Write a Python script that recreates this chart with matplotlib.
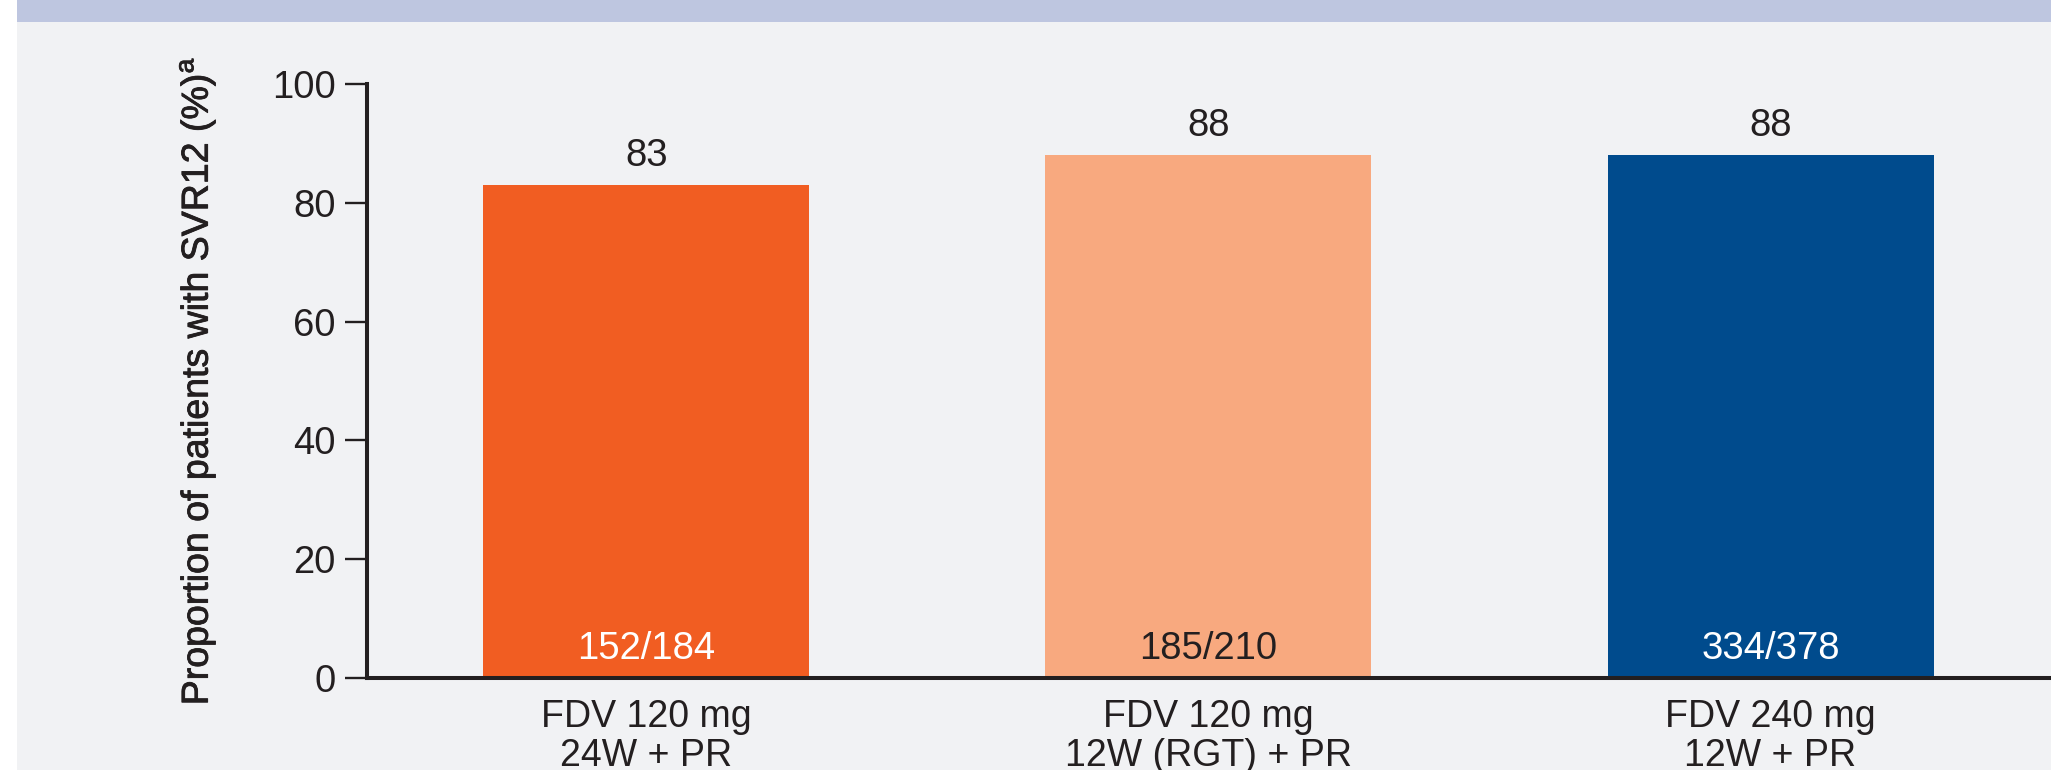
import matplotlib
matplotlib.use("Agg")
import matplotlib.pyplot as plt
from matplotlib import patheffects as pe
from matplotlib.patches import Rectangle

# Data
categories = ["FDV 120 mg\n24W + PR", "FDV 120 mg\n12W (RGT) + PR", "FDV 240 mg\n12W + PR"]
svr12_pct = [83, 88, 88]
responders = ["152/184", "185/210", "334/378"]
y_ticks = [0, 20, 40, 60, 80, 100]

bar_colors = ["#f15d22", "#f8a97f", "#004b8d"]
count_colors = ["white", "#231f20", "white"]
ink = "#231f20"
panel_bg = "#f1f2f4"

plt.rcParams["font.family"] = ["Liberation Sans", "DejaVu Sans"]
plt.rcParams["mathtext.fontset"] = "custom"
plt.rcParams["mathtext.rm"] = "Liberation Sans"

W, H, DPI = 2051, 770, 100
fig = plt.figure(figsize=(W / DPI, H / DPI), dpi=DPI)
fig.patch.set_facecolor("white")

# Panel background and header band
fig.patches.append(Rectangle((17 / W, 0), 1 - 17 / W, 1, transform=fig.transFigure,
                             facecolor=panel_bg, edgecolor="none", zorder=-10))
fig.patches.append(Rectangle((17 / W, 1 - 22 / H), 1 - 17 / W, 22 / H, transform=fig.transFigure,
                             facecolor="#bec6e0", edgecolor="none", zorder=-9))

ax_left, ax_right = 367 / W, 1.0
ax_bottom, ax_top = 1 - 678 / H, 1 - 84 / H
ax = fig.add_axes([ax_left, ax_bottom, ax_right - ax_left, ax_top - ax_bottom])
ax.set_facecolor("none")

x = list(range(len(categories)))
bars = ax.bar(x, svr12_pct, width=0.58, color=bar_colors, edgecolor="none", zorder=2)

ax.set_xlim(-0.497, 2.499)
ax.set_ylim(0, 100)
ax.set_yticks(y_ticks)
ax.set_xticks(x)
ax.set_xticklabels(categories, fontsize=27, color=ink, linespacing=1.12)

for s in ["top", "right"]:
    ax.spines[s].set_visible(False)
for s in ["left", "bottom"]:
    ax.spines[s].set_color(ink)
    ax.spines[s].set_linewidth(2.9)
    ax.spines[s].set_zorder(3)

ax.tick_params(axis="y", length=16, width=1.7, color=ink, pad=6.5, labelsize=27.5, labelcolor=ink)
ax.tick_params(axis="x", length=0, pad=15)

# Value labels above bars and responder counts inside bars
for xi, v, n, c in zip(x, svr12_pct, responders, count_colors):
    ax.annotate(str(v), xy=(xi, v), xytext=(0, 13.7), textcoords="offset points",
                ha="center", va="baseline", fontsize=27.5, color=ink)
    ax.annotate(n, xy=(xi, 0), xytext=(0, 13.7), textcoords="offset points",
                ha="center", va="baseline", fontsize=27.5, color=c, zorder=4)

fig.text(197 / W, (ax_bottom + ax_top) / 2, r"Proportion of patients with SVR12 (%)$^{\mathrm{a}}$",
         rotation=90, ha="center", va="center", fontsize=27, color=ink,
         path_effects=[pe.withStroke(linewidth=0.6, foreground=ink)])

fig.savefig("out.png", dpi=DPI, facecolor=fig.get_facecolor())
